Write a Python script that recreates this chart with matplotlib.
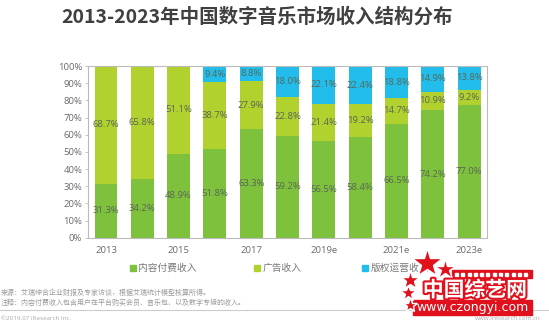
import matplotlib
matplotlib.use("Agg")
import matplotlib.pyplot as plt
import matplotlib.patheffects as pe
from matplotlib.patches import Rectangle
import numpy as np

plt.rcParams['font.family'] = ['Open Sans', 'Noto Sans CJK SC', 'DejaVu Sans']

years = ["2013", "2014", "2015", "2016", "2017", "2018", "2019e", "2020e", "2021e", "2022e", "2023e"]
content_pay = [31.3, 34.2, 48.9, 51.8, 63.3, 59.2, 56.5, 58.4, 66.5, 74.2, 77.0]
advertising = [68.7, 65.8, 51.1, 38.7, 27.9, 22.8, 21.4, 19.2, 14.7, 10.9, 9.2]
copyright_ops = [0.0, 0.0, 0.0, 9.4, 8.8, 18.0, 22.1, 22.4, 18.8, 14.9, 13.8]
series_names = ["内容付费收入", "广告收入", "版权运营收入"]
colors = ["#7dc13c", "#b0d12e", "#22bdea"]
yticks = [0, 10, 20, 30, 40, 50, 60, 70, 80, 90, 100]
xtick_shown = ["2013", "2015", "2017", "2019e", "2021e", "2023e"]

fig = plt.figure(figsize=(5.49, 3.25), dpi=100)
ax = fig.add_axes([0.16, 0.2686, 0.7276, 0.5283])

x = np.arange(len(years))
series = [content_pay, advertising, copyright_ops]
bottom = np.zeros(len(years))
w = 0.63
for vals, c in zip(series, colors):
    vals = np.array(vals)
    ax.bar(x, vals, w, bottom=bottom, color=c, linewidth=0)
    for xi, b, v in zip(x, bottom, vals):
        if v > 0:
            ax.text(xi, b + v / 2, f"{v:.1f}%", ha="center", va="center",
                    fontsize=6.8, color="#5a6656")
    bottom += vals

ax.set_xlim(-0.5, len(years) - 0.5)
ax.set_ylim(0, 100)
ax.set_yticks(yticks)
ax.set_yticklabels([f"{t}%" for t in yticks], fontsize=6.8, color="#6a6a6a")
ax.set_xticks([years.index(y) for y in xtick_shown])
ax.set_xticklabels(xtick_shown, fontsize=6.8, color="#6a6a6a")
ax.tick_params(axis="x", length=0, pad=6)
ax.tick_params(axis="y", length=2, width=0.6, color="#bbbbbb", pad=2)
for s in ax.spines.values():
    s.set_color("#bbbbbb")
    s.set_linewidth(0.8)

# title
fig.text(0.468, 0.948, "2013-2023年中国数字音乐市场收入结构分布", ha="center", va="center",
         fontsize=14, fontweight="bold", color="#404040",
         family=["Noto Sans CJK SC", "DejaVu Sans"])

# legend
leg_x = [132.7, 256.7, 365.0]
for lx, name, c in zip(leg_x, series_names, colors):
    fig.patches.append(Rectangle(((lx - 3) / 549, 1 - 271 / 325), 6 / 549, 6 / 325,
                                 transform=fig.transFigure, color=c, figure=fig))
    fig.text((lx + 5.5) / 549, 1 - 268 / 325, name, ha="left", va="center",
             fontsize=7, color="#777777", family=["Noto Sans CJK SC", "DejaVu Sans"])

# footnotes
fig.text(1 / 549, 1 - 293 / 325, "来源：艾瑞综合企业财报及专家访谈，根据艾瑞统计模型核算所得。",
         ha="left", va="center", fontsize=5, color="#9a9a9a", family=["Noto Sans CJK SC", "DejaVu Sans"])
fig.text(1 / 549, 1 - 302.5 / 325, "注释：内容付费收入包含用户在平台购买会员、音乐包、以及数字专辑的收入。",
         ha="left", va="center", fontsize=5, color="#9a9a9a", family=["Noto Sans CJK SC", "DejaVu Sans"])
fig.add_artist(plt.Line2D([0, 1], [1 - 310 / 325, 1 - 310 / 325], transform=fig.transFigure,
                          color="#cccccc", linewidth=0.8))
fig.text(1 / 549, 1 - 318.5 / 325, "©2019.07 iResearch Inc.", ha="left", va="center",
         fontsize=4.5, color="#aaaaaa")
fig.text(541 / 549, 1 - 318.5 / 325, "www.iresearch.com.cn", ha="right", va="center",
         fontsize=4.5, color="#aaaaaa")

# watermark
red = "#e0101c"
fig.patches.append(Rectangle((413 / 549, 1 - 315 / 325), 119 / 549, 15 / 325,
                             transform=fig.transFigure, color=red, figure=fig, zorder=5))
fig.patches.append(Rectangle((452 / 549, 1 - 278 / 325), 80 / 549, 8 / 325,
                             transform=fig.transFigure, color=red, figure=fig, zorder=5))
for i in range(12):
    fig.patches.append(Rectangle(((455 + i * 6.3) / 549, 1 - 275.5 / 325), 3 / 549, 3 / 325,
                                 transform=fig.transFigure, color="white", figure=fig, zorder=6))
for sx, sy, ss in [(427, 263, 22), (445, 269, 16), (410, 280, 14), (408, 293, 12), (410, 305, 11)]:
    fig.add_artist(plt.Line2D([sx / 549], [1 - sy / 325], marker="*", markersize=ss,
                              color=red, markerfacecolor=red, markeredgecolor="white",
                              markeredgewidth=1.0, transform=fig.transFigure, zorder=6))
fig.text(475 / 549, 1 - 290 / 325, "中国综艺网", ha="center", va="center", fontsize=15,
         fontweight="bold", color="white", family=["Noto Sans CJK SC", "DejaVu Sans"], zorder=7,
         path_effects=[pe.withStroke(linewidth=3, foreground=red)])
fig.text(473 / 549, 1 - 307.5 / 325, "www.czongyi.com", ha="center", va="center", fontsize=9,
         color="white", zorder=7, family=["DejaVu Sans"])

fig.savefig("out.png", dpi=100)
